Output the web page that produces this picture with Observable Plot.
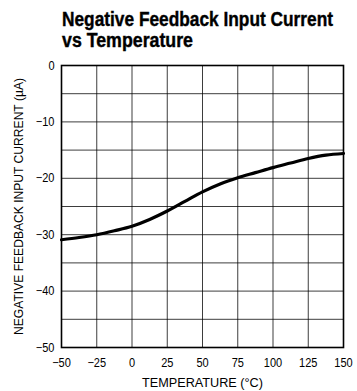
<!DOCTYPE html>
<html><head><meta charset="utf-8">
<script src="https://cdn.jsdelivr.net/npm/d3@7"></script>
<script src="https://cdn.jsdelivr.net/npm/@observablehq/plot@0.6"></script>
<style>
body{margin:0;background:#fff;width:357px;height:391px;overflow:hidden;position:relative;}
.tl{position:absolute;left:62px;font-family:"Liberation Sans",Arial,sans-serif;font-weight:bold;font-size:20px;line-height:20px;color:#000;white-space:nowrap;transform-origin:0 0;-webkit-text-stroke:0.4px #000;}
#chart{position:absolute;left:0;top:56px;}
</style></head><body>
<div class="tl" id="t1" style="top:9px">Negative Feedback Input Current</div>
<div class="tl" id="t2" style="top:30px">vs Temperature</div>
<div id="chart"></div>
<script>
const temperature = [-50, -37.5, -25, -12.5, 0, 12.5, 25, 37.5, 50, 62.5, 75, 87.5, 100, 112.5, 125, 137.5, 150];
const current = [-30.9, -30.5, -30.0, -29.3, -28.5, -27.3, -25.8, -24.1, -22.4, -21.0, -19.9, -19.0, -18.1, -17.3, -16.5, -15.9, -15.6];
const xTicks = [-50, -25, 0, 25, 50, 75, 100, 125, 150];
const yTicks = [0, -10, -20, -30, -40, -50];
const yGrid = [-5, -10, -15, -20, -25, -30, -35, -40, -45];

const data = temperature.map((t, i) => ({t, c: current[i]}));
const font = '"Liberation Sans",Arial,sans-serif';
const fmt = d => d < 0 ? "\u2212" + Math.abs(d) : String(d);

const plot = Plot.plot({
  width: 357, height: 335,
  marginTop: 9, marginBottom: 44, marginLeft: 61, marginRight: 14,
  style: {fontFamily: font, fontSize: "12.5px", color: "#000", background: "#fff"},
  x: {domain: [-50, 150], ticks: xTicks, tickFormat: fmt, tickSize: 0, tickPadding: 11,
      label: "TEMPERATURE (°C)", labelAnchor: "center", labelArrow: "none", labelOffset: 39},
  y: {domain: [-50, 0], ticks: yTicks, tickFormat: fmt, tickSize: 0, tickPadding: 7,
      label: "NEGATIVE FEEDBACK INPUT CURRENT (µA)", labelAnchor: "center", labelArrow: "none", labelOffset: 47},
  marks: [
    Plot.ruleX(xTicks.slice(1, -1), {stroke: "#000", strokeWidth: 0.9, strokeOpacity: 0.85}),
    Plot.ruleY(yGrid, {stroke: "#000", strokeWidth: 0.9, strokeOpacity: 0.85}),
    Plot.frame({stroke: "#000", strokeWidth: 1.6}),
    Plot.line(data, {x: "t", y: "c", curve: "monotone-x", stroke: "#000", strokeWidth: 3.2})
  ]
});
document.getElementById("chart").appendChild(plot);

// condense text to match the narrow typeface of the original
function fit(el, target) {
  el.setAttribute("textLength", target);
  el.setAttribute("lengthAdjust", "spacingAndGlyphs");
}
plot.querySelectorAll("g[aria-label='x-axis tick label'] text, g[aria-label='y-axis tick label'] text").forEach(el => {
  fit(el, el.getComputedTextLength() * 0.88);
});
const xl = plot.querySelector("g[aria-label='x-axis label'] text");
if (xl) fit(xl, 121);
const yl = plot.querySelector("g[aria-label='y-axis label'] text");
if (yl) fit(yl, 257);
[["t1", 271], ["t2", 131]].forEach(([id, w]) => {
  const el = document.getElementById(id);
  el.style.transform = `scaleX(${w / el.getBoundingClientRect().width})`;
});
</script>
</body></html>
